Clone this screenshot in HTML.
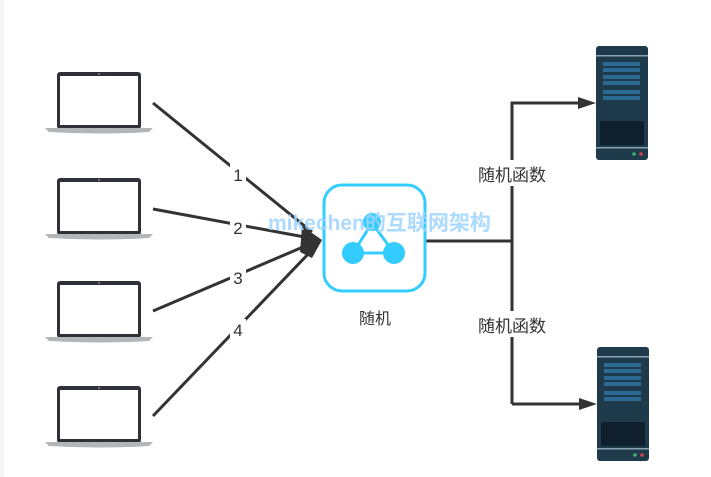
<!DOCTYPE html>
<html><head><meta charset="utf-8"><style>
html,body{margin:0;padding:0;background:#fff;}
svg{display:block;}
text{font-family:"Liberation Sans","Noto Sans CJK SC",sans-serif;}
</style></head><body>
<svg width="711" height="477" viewBox="0 0 711 477" xmlns="http://www.w3.org/2000/svg">
<rect x="0" y="0" width="4" height="477" fill="#f3f4f6"/>
<defs>
<g id="lap">
<rect x="12" y="0" width="84" height="57" rx="3" fill="#2f3038"/>
<rect x="15" y="4" width="78" height="49" fill="#fff"/>
<circle cx="54" cy="2" r="1" fill="#888"/>
<path d="M0 56 L108 56 L104 60 Q54 63 4 60 Z" fill="#b4b5b8"/>
</g>
<g id="srv">
<rect x="0" y="0" width="52" height="114" rx="3" fill="#1f3a4a"/>
<rect x="0" y="9" width="52" height="1.5" fill="#8aa3b2"/>
<rect x="7" y="16" width="37" height="4" fill="#2a6a93"/>
<rect x="7" y="22" width="37" height="4" fill="#2a6a93"/>
<rect x="7" y="29" width="37" height="4" fill="#2a6a93"/>
<rect x="7" y="35" width="37" height="4" fill="#2a6a93"/>
<rect x="7" y="44" width="37" height="4" fill="#2a6a93"/>
<rect x="7" y="50" width="37" height="4" fill="#2a6a93"/>
<rect x="4" y="75" width="44" height="24" fill="#0f1f2b"/>
<rect x="0" y="101" width="52" height="1.5" fill="#8aa3b2"/>
<circle cx="38" cy="108" r="1.8" fill="#3cb371"/>
<circle cx="45" cy="108" r="1.8" fill="#d9434f"/>
</g>
</defs>
<use href="#lap" x="45" y="72"/>
<use href="#lap" x="45" y="178"/>
<use href="#lap" x="45" y="281"/>
<use href="#lap" x="45" y="386"/>
<use href="#srv" x="596" y="46"/>
<use href="#srv" x="597" y="347"/>
<g stroke="#333" stroke-width="3" fill="none">
<line x1="153" y1="103" x2="312" y2="232"/>
<line x1="153" y1="209" x2="310" y2="238"/>
<line x1="153" y1="311" x2="310" y2="244"/>
<line x1="153" y1="416" x2="312" y2="250"/>
<polyline points="426,241 512,241"/>
<polyline points="512,404 512,103 584,103"/>
<polyline points="512,404 584,404"/>
</g>
<path d="M302 226 L322 240 L312 258 L300 252 Z" fill="#333"/>
<path d="M578 97 L596 103 L578 109 Z" fill="#333"/>
<path d="M579 398 L597 404 L579 410 Z" fill="#333"/>
<g font-size="17" fill="#333" text-anchor="middle">
<rect x="230" y="164" width="16" height="20" fill="#fff"/><text x="238" y="181">1</text>
<rect x="230" y="217" width="16" height="20" fill="#fff"/><text x="238" y="234">2</text>
<rect x="230" y="267" width="16" height="20" fill="#fff"/><text x="238" y="284">3</text>
<rect x="230" y="319" width="16" height="20" fill="#fff"/><text x="238" y="336">4</text>
</g>
<rect x="324" y="185" width="101" height="106" rx="18" fill="#fff" stroke="#33ccff" stroke-width="3"/>
<g stroke="#33ccff" stroke-width="3"><line x1="372" y1="223" x2="353" y2="253"/><line x1="372" y1="223" x2="394" y2="253"/><line x1="353" y1="253" x2="394" y2="253"/></g>
<circle cx="372" cy="222" r="9" fill="#33ccff"/>
<circle cx="353" cy="253" r="11" fill="#33ccff"/>
<circle cx="394" cy="253" r="11" fill="#33ccff"/>
<text x="375" y="324" font-size="16" fill="#333" text-anchor="middle">随机</text>
<rect x="474" y="160" width="76" height="26" fill="#fff"/>
<text x="512" y="181" font-size="17" fill="#333" text-anchor="middle">随机函数</text>
<rect x="474" y="311" width="76" height="26" fill="#fff"/>
<text x="512" y="332" font-size="17" fill="#333" text-anchor="middle">随机函数</text>
<text x="268" y="230" font-size="21" font-weight="bold" fill="#9fd4ff" fill-opacity="0.85">mikechen的互联网架构</text>
</svg>
</body></html>
